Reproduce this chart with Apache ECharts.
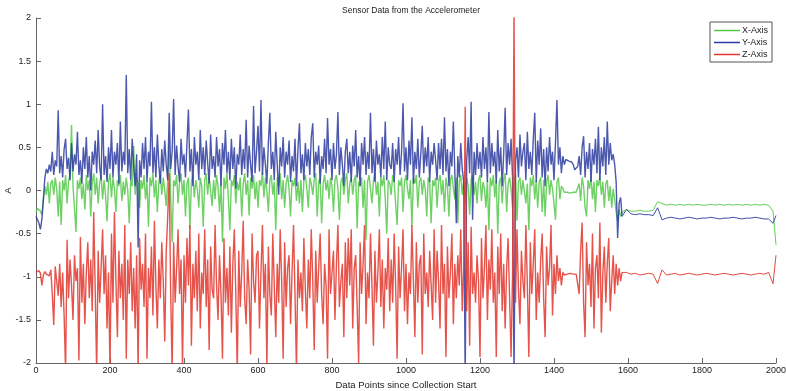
<!DOCTYPE html>
<html><head><meta charset="utf-8">
<script src="https://cdn.jsdelivr.net/npm/echarts@6/dist/echarts.min.js"></script>
<style>html,body{margin:0;padding:0;background:#fff}#c{width:786px;height:391px}</style>
</head><body><div id="c"></div>
<script>
// Sample positions: dense part every 4 points from 0, calm tail from 1596 every 12, last sample at 2000
const denseStep = 4, tailStart = 1596, tailStep = 12, lastX = 2000;

// X-Axis (green), dense part (x = 0, 4, 8, ...)
const xAxisDense = [
  -0.25,-0.21,-0.20,-0.24,-0.28,-0.10,0.05,-0.05,0.10,-0.15,0.08,0.12,-0.05,0.15,0.02,-0.30,0.10,-0.40,0.12,0.00,0.18,-0.15,0.10,0.20,0.76,0.05,-0.20,-0.48,0.12,0.02,
  0.15,-0.10,0.08,-0.22,0.18,0.00,0.12,-0.30,0.10,0.20,-0.05,0.15,-0.15,0.08,0.18,-0.10,0.12,-0.05,-0.36,0.10,0.20,-0.08,0.15,0.02,-0.25,0.12,0.05,0.18,-0.12,0.10,
  -0.05,0.15,0.00,-0.38,0.12,0.05,0.52,-0.05,0.15,0.08,-0.20,0.12,0.02,0.18,-0.10,0.10,-0.42,0.15,0.05,0.20,-0.08,0.12,-0.25,0.10,0.18,-0.05,0.15,0.00,-0.18,0.12,
  0.53,-0.10,-0.60,0.12,0.05,0.18,-0.15,0.10,0.20,-0.05,0.12,-0.30,0.08,0.15,-0.45,0.10,0.18,-0.08,0.12,0.02,-0.20,0.15,0.05,-0.42,0.12,0.20,-0.05,0.15,0.00,-0.18,
  0.12,-0.10,0.18,0.05,-0.25,0.10,-0.60,0.15,0.02,0.20,-0.10,-0.46,0.12,0.05,0.18,-0.15,0.10,0.00,0.15,-0.30,0.08,0.20,-0.05,0.12,-0.29,0.15,0.02,0.18,-0.10,0.10,
  -0.20,0.12,0.05,0.22,-0.08,0.15,0.00,-0.25,0.12,0.18,-0.05,0.10,-0.46,0.15,0.05,0.20,-0.10,0.12,-0.20,0.08,0.18,0.02,-0.30,0.12,0.05,0.15,-0.12,0.10,-0.15,0.12,
  -0.25,0.12,0.18,0.02,-0.20,0.15,0.08,-0.05,0.12,0.20,-0.30,0.10,0.15,-0.38,0.08,0.18,0.00,0.12,-0.10,0.15,0.05,-0.25,0.12,0.18,0.02,-0.34,0.10,0.15,-0.05,0.12,
  0.20,-0.15,0.08,0.15,-0.05,0.12,0.18,-0.44,0.10,0.05,0.15,-0.20,0.12,-0.57,0.10,0.18,0.02,-0.15,0.12,0.20,-0.05,0.10,-0.30,0.15,0.05,0.18,-0.10,-0.50,0.12,0.08,
  -0.05,0.18,0.10,-0.15,-0.40,0.12,0.05,0.15,-0.25,0.10,0.18,0.02,-0.10,0.12,-0.42,0.15,0.08,0.18,-0.20,0.10,0.15,-0.05,0.12,0.02,-0.30,0.15,0.10,-0.38,0.12,0.05,
  0.15,-0.20,0.10,0.18,-0.05,0.12,-0.25,0.15,0.05,-0.30,0.12,0.18,0.02,-0.10,0.15,-0.38,0.10,0.18,-0.05,0.12,-0.15,0.15,0.05,-0.28,0.12,0.18,-0.05,0.10,-0.15,0.12,
  0.18,-0.12,0.10,0.02,-0.20,0.12,-0.46,0.15,0.05,0.18,-0.08,0.12,-0.50,0.10,0.15,-0.15,0.12,0.20,-0.25,0.08,0.15,0.02,-0.20,0.12,0.18,-0.35,0.10,0.15,-0.05,0.12,
  0.12,-0.15,0.08,-0.46,0.15,0.05,0.18,-0.10,0.12,-0.20,0.10,0.15,-0.25,0.12,-0.30,0.10,0.18,-0.05,0.12,0.02,-0.15,-0.34,0.10,0.15,-0.10,0.05,0.02,-0.02,0.00,-0.02,
  -0.02,-0.03,-0.01,-0.02,-0.04,-0.02,0.00,0.08,-0.12,0.15,0.05,-0.20,-0.30,0.12,0.02,0.16,-0.10,0.10,-0.25,0.12,0.05,0.16,-0.05,0.10,-0.20,0.08,0.12,-0.12,0.05,-0.20,
  0.02,-0.10,-0.25,-0.35,-0.22,-0.30,-0.25
];
// X-Axis tail (x = 1596, 1608, ... then 2000)
const xAxisTail = [
  -0.22,-0.24,-0.24,-0.23,-0.24,-0.24,-0.23,-0.13,-0.15,-0.17,-0.16,-0.17,-0.16,-0.17,-0.16,-0.17,-0.16,-0.17,
  -0.17,-0.16,-0.17,-0.16,-0.17,-0.16,-0.17,-0.16,-0.17,-0.16,-0.17,-0.16,-0.17,-0.16,-0.17,-0.24,-0.63
];

// Y-Axis (blue)
const yAxisDense = [
  -0.30,-0.34,-0.38,-0.45,-0.33,-0.10,0.15,0.25,0.20,0.30,0.22,0.45,0.18,0.35,0.28,0.93,0.20,0.40,0.15,0.48,0.60,0.25,0.38,0.12,0.55,0.22,0.42,0.30,0.68,0.18,
  0.35,0.08,0.50,0.25,0.62,0.15,0.40,0.00,0.45,0.30,0.58,0.20,0.70,0.28,0.12,1.00,0.18,0.40,0.10,0.50,0.25,0.70,0.15,0.45,0.30,0.55,0.08,0.80,0.22,0.45,
  0.30,1.34,0.20,0.48,0.12,0.60,0.28,0.05,0.42,-0.66,0.35,0.15,0.55,0.25,0.62,0.10,0.45,0.28,1.03,0.20,0.50,0.15,0.65,0.30,0.08,0.48,0.22,0.58,0.30,0.12,
  0.90,0.25,0.45,1.06,0.18,0.52,0.28,0.10,0.60,0.30,0.42,0.15,0.55,0.94,0.22,0.48,0.05,0.62,0.30,0.45,0.12,0.70,0.25,0.50,0.18,0.58,0.32,0.08,0.65,0.25,
  0.40,0.15,0.62,0.28,0.48,0.05,0.55,0.30,0.70,0.20,0.45,0.12,0.60,0.25,0.50,0.02,0.42,0.30,0.65,0.18,0.48,0.25,0.82,0.15,0.52,0.30,0.10,0.98,0.20,0.45,
  0.75,0.22,1.05,0.18,0.50,0.30,0.08,0.55,0.90,0.25,0.45,0.12,0.68,0.30,-0.05,0.50,0.28,0.62,0.15,0.45,0.30,0.58,0.10,0.40,0.22,0.60,0.05,0.48,0.78,0.20,
  0.42,0.12,0.55,0.28,0.48,0.18,0.62,0.78,0.15,0.45,0.30,0.52,0.08,0.40,0.25,0.60,0.20,0.84,0.30,0.48,0.12,0.55,0.25,0.42,0.91,0.18,0.50,0.30,0.05,0.45,
  0.60,0.20,0.45,0.10,0.52,0.28,0.70,0.15,0.40,0.05,0.55,0.30,0.62,0.18,0.45,0.25,0.90,0.20,0.48,0.10,0.58,0.30,0.42,0.15,0.62,0.25,0.80,0.12,0.50,0.30,
  0.25,0.55,0.10,0.48,0.30,0.62,0.18,0.45,1.01,0.22,0.50,0.12,0.58,0.30,0.85,0.08,0.45,0.25,0.60,0.15,0.42,0.75,0.20,0.50,0.28,0.62,0.10,0.45,0.30,0.55,
  0.35,0.12,0.55,0.25,0.60,0.18,0.85,0.22,0.48,0.05,0.45,0.28,0.80,0.20,-0.38,0.40,0.15,0.55,0.25,0.10,-2.20,0.35,0.62,0.20,1.03,-0.34,0.45,0.18,0.55,0.25,
  0.45,0.15,0.62,0.25,0.50,0.10,0.91,0.20,0.55,0.28,0.45,0.08,0.70,0.22,0.50,0.05,0.42,0.96,0.18,0.55,0.30,0.60,0.15,-2.20,0.35,0.50,0.15,0.65,0.28,0.45,
  0.55,0.12,0.68,0.25,0.45,0.18,0.60,0.90,0.10,0.58,0.30,0.72,0.15,0.48,0.05,0.50,0.22,0.62,0.30,0.45,0.12,0.55,1.05,0.30,0.50,0.20,0.40,0.30,0.36,0.35,
  0.34,0.36,0.33,0.30,0.24,0.22,0.28,0.40,0.18,0.50,0.63,0.15,0.45,0.25,0.55,0.10,0.48,0.30,0.60,0.20,0.74,0.12,0.50,0.28,0.62,0.18,0.80,0.30,0.55,0.35,
  0.42,0.30,0.10,-0.55,-0.15,-0.08,-0.30
];
const yAxisTail = [
  -0.22,-0.27,-0.28,-0.27,-0.28,-0.28,-0.29,-0.20,-0.34,-0.32,-0.31,-0.32,-0.33,-0.32,-0.31,-0.32,-0.33,-0.32,
  -0.32,-0.31,-0.32,-0.33,-0.32,-0.32,-0.31,-0.32,-0.33,-0.32,-0.32,-0.31,-0.32,-0.33,-0.33,-0.38,-0.29
];

// Z-Axis (red)
const zAxisDense = [
  -0.95,-0.97,-0.93,-0.96,-1.10,-0.98,-0.94,-0.97,-0.95,-0.99,-0.92,-1.20,-1.56,-0.88,-1.05,-1.22,-0.85,-1.35,-0.95,-1.45,-2.10,-0.57,-1.25,-0.80,-1.10,-1.50,-0.75,-1.05,-0.90,-1.97,
  -0.54,-1.30,-0.85,-1.55,-0.95,-0.60,-1.25,-0.80,-1.40,-0.25,-1.15,-2.10,-0.70,-1.30,-0.90,-0.45,-1.20,-0.75,-1.60,-0.95,-2.10,-0.50,-1.30,-0.25,-1.05,-1.70,-0.70,-1.25,-0.85,-1.50,
  -0.40,-1.95,-0.80,-1.20,-0.60,-1.40,-0.90,-1.60,-0.75,-2.10,-0.55,-1.15,-0.85,-1.35,-0.50,-1.95,-0.90,-1.25,-0.65,-1.45,-0.35,-1.10,-1.60,-0.80,-1.25,-0.60,-1.05,-1.75,-0.70,-0.30,
  0.20,-1.20,-2.10,-0.60,-1.30,-0.90,-0.45,-1.20,-0.80,-2.05,-0.75,-1.30,-0.55,-1.10,-0.40,-1.80,-0.85,-1.25,-0.70,-1.40,-0.50,-1.60,-0.95,-1.20,-0.45,-1.35,-0.80,-1.85,-0.65,-1.15,
  -1.25,-0.40,-1.10,-1.50,-0.75,-1.20,-1.95,-0.55,-1.30,-0.90,-1.45,-0.65,-1.65,-0.85,-0.45,-1.20,-2.10,-0.70,-1.35,-0.95,-0.35,-1.25,-1.55,-0.80,-1.15,-1.90,-0.50,-1.05,-1.30,-0.75,
  -0.70,-1.60,-0.95,-0.40,-1.25,-0.85,-2.05,-0.65,-1.20,-1.45,-0.50,-1.10,-1.70,-0.85,-1.30,-0.45,-1.05,-1.95,-0.60,-1.35,-0.90,-0.75,-1.55,-0.95,-0.40,-1.20,-2.10,-0.80,-1.25,-0.95,
  -1.40,-0.55,-1.15,-1.60,-0.80,-1.25,-0.45,-1.05,-1.85,-0.70,-1.30,-0.90,-0.50,-1.20,-1.55,-0.85,-1.10,-1.95,-0.45,-1.20,-0.95,-0.70,-1.50,-0.85,-0.40,-1.35,-1.05,-0.85,-1.70,-0.60,
  -1.25,-0.55,-1.10,-0.45,-1.60,-0.90,-0.75,-1.35,-2.00,-0.60,-1.20,-0.85,-0.40,-1.55,-0.95,-1.25,-0.50,-1.10,-1.80,-0.70,-1.30,-0.95,-0.45,-1.35,-0.80,-1.60,-0.90,-1.15,-0.55,-1.40,
  -0.80,-1.30,-0.50,-1.10,-1.95,-0.65,-1.25,-0.90,-0.45,-1.40,-0.85,-1.55,-0.95,-1.20,-0.40,-1.05,-1.70,-0.60,-1.30,-0.85,-0.75,-1.90,-0.50,-1.20,-0.95,-1.35,-0.70,-1.10,-1.50,-0.45,
  -1.30,-0.70,-1.05,-1.60,-0.40,-1.20,-0.85,-1.93,-0.65,-1.25,-0.95,-0.50,-1.55,-0.85,-1.25,-0.75,-1.10,-0.45,-1.40,-0.90,0.97,-1.40,-0.60,-1.80,-0.42,-1.20,-0.95,-1.30,-0.75,-1.05,
  -1.93,-0.55,-1.25,-0.90,-0.40,-1.50,-0.80,-1.15,-0.45,-1.30,-0.95,-1.93,-0.65,-1.20,-0.50,-1.40,-0.85,-1.60,-0.90,-0.55,-1.25,-1.93,-0.95,2.10,-1.30,-0.45,-1.15,-1.55,-0.70,-1.05,
  -1.25,-0.40,-1.10,-1.93,-0.60,-1.20,-0.85,-0.45,-1.50,-0.95,-1.30,-0.80,-0.50,-1.25,-1.70,-0.65,-1.10,-0.90,-0.40,-1.45,-0.85,-1.20,-0.75,-1.05,-0.90,-1.10,-0.95,-0.98,-0.96,-0.97,
  -0.97,-0.96,-0.98,-0.97,-0.95,-0.97,-0.96,-1.20,-0.70,-0.37,-1.30,-1.70,-0.60,-1.10,-0.85,-1.35,-0.50,-1.60,-0.90,-0.75,-1.25,-0.37,-1.65,-0.95,-0.65,-1.30,-0.85,-0.55,-1.40,-1.05,
  -0.75,-1.20,-0.85,-1.10,-0.90,-1.05,-0.95
];
const zAxisTail = [
  -0.95,-0.97,-0.96,-0.98,-0.97,-0.96,-0.97,-1.08,-0.92,-0.98,-0.97,-0.96,-0.98,-0.97,-0.96,-0.97,-0.98,-0.97,
  -0.96,-0.97,-0.98,-0.97,-0.96,-0.97,-0.98,-0.97,-0.96,-0.97,-0.98,-0.97,-0.96,-0.97,-0.95,-1.08,-0.75
];

const seriesNames = ['X-Axis', 'Y-Axis', 'Z-Axis'];
const seriesColors = ['#55c84a', '#2b3b9f', '#e2352c'];
const xTickValues = [0, 200, 400, 600, 800, 1000, 1200, 1400, 1600, 1800, 2000];

function densePairs(dense) { return dense.map((v, i) => [i * denseStep, v]); }
function tailPairs(dense, tail) {
  // start the tail from the last dense sample so the line stays continuous
  const out = [[(dense.length - 1) * denseStep, dense[dense.length - 1]]];
  tail.forEach((v, k) => out.push([k === tail.length - 1 ? lastX : tailStart + k * tailStep, v]));
  return out;
}
const denseData = [densePairs(xAxisDense), densePairs(yAxisDense), densePairs(zAxisDense)];
const tailData = [tailPairs(xAxisDense, xAxisTail), tailPairs(yAxisDense, yAxisTail), tailPairs(zAxisDense, zAxisTail)];

const font = 'Liberation Sans, Arial, Helvetica, sans-serif';
const chart = echarts.init(document.getElementById('c'), null, {renderer: 'canvas'});
const series = [];
seriesNames.forEach((n, i) => {
  series.push({
    name: n, type: 'line', data: denseData[i], z: 2 + i,
    symbol: 'none', showSymbol: false, smooth: false, clip: true,
    color: seriesColors[i],
    lineStyle: {width: 1.4, color: seriesColors[i], opacity: 0.85}
  });
  series.push({
    name: n, type: 'line', data: tailData[i], z: 2 + i,
    symbol: 'none', showSymbol: false, smooth: false, clip: true,
    color: seriesColors[i],
    lineStyle: {width: 1, color: seriesColors[i], opacity: 0.9}
  });
});
chart.setOption({
  animation: false,
  backgroundColor: '#fff',
  title: {
    text: 'Sensor Data from the Accelerometer',
    left: 406, top: 1, textAlign: 'center',
    textStyle: {fontSize: 8.5, fontWeight: 'normal', color: '#222', fontFamily: font}
  },
  legend: {
    data: seriesNames,
    orient: 'vertical',
    right: 14, top: 22,
    icon: 'rect', itemWidth: 26, itemHeight: 1.5, itemGap: 3,
    padding: [4, 4, 3, 4],
    borderColor: '#555', borderWidth: 1, backgroundColor: '#fff',
    textStyle: {fontSize: 9, color: '#222', fontFamily: font, padding: [0, 0, 0, -3]}
  },
  grid: {left: 36, right: 10, top: 18, bottom: 28, containLabel: false, outerBoundsMode: 'none'},
  xAxis: {
    type: 'value', min: 0, max: 2000, interval: 200,
    name: 'Data Points since Collection Start', nameLocation: 'middle', nameGap: 17,
    nameMoveOverlap: false,
    nameTextStyle: {fontSize: 9.5, color: '#222', fontFamily: font},
    axisLine: {onZero: false, lineStyle: {color: '#666', width: 1}},
    axisTick: {inside: true, length: 5, lineStyle: {color: '#666'}},
    axisLabel: {fontSize: 9, color: '#222', margin: 3, fontFamily: font,
      formatter: v => xTickValues.includes(v) ? String(v) : ''},
    splitLine: {show: false}
  },
  yAxis: {
    type: 'value', min: -2, max: 2, interval: 0.5,
    name: 'A', nameLocation: 'middle', nameGap: 23, nameRotate: 90,
    nameMoveOverlap: false,
    nameTextStyle: {fontSize: 9.5, color: '#222', fontFamily: font},
    axisLine: {show: true, onZero: false, lineStyle: {color: '#666', width: 1}},
    axisTick: {show: true, inside: true, length: 5, lineStyle: {color: '#666'}},
    axisLabel: {fontSize: 9, color: '#222', margin: 5, fontFamily: font, formatter: v => String(v)},
    splitLine: {show: false}
  },
  series: series
});
</script></body></html>
